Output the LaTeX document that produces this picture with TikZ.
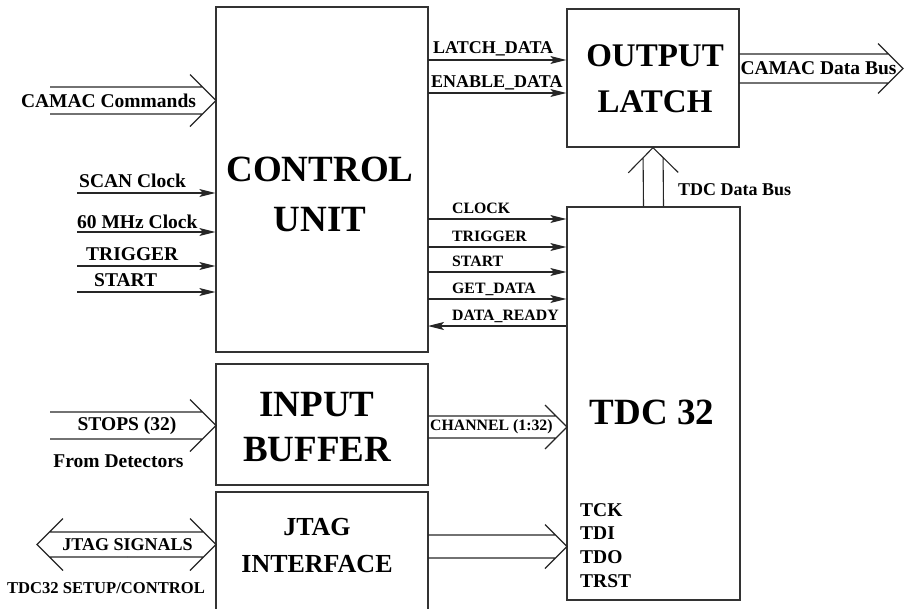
\documentclass[tikz,border=0pt]{standalone}
\usepackage{fontspec}
\setmainfont{Liberation Serif}
\usetikzlibrary{arrows.meta,positioning,calc}

\tikzset{
  wire/.style={line width=1.1pt, black!85},
  sig/.style={wire, -{Stealth[length=16pt, width=8pt, inset=3.5pt]}},
  blk/.style={draw=black!80, line width=1.3pt, inner sep=0pt},
  ttl/.style={font=\fontsize{37}{48}\selectfont\bfseries, align=center, inner sep=0pt},
  lbl/.style={font=\fontsize{19.5}{22}\selectfont\bfseries, inner sep=0pt},
  buslbl/.style={font=\fontsize{18}{21}\selectfont\bfseries, inner sep=0pt},
  sgl/.style={font=\fontsize{15.8}{18}\selectfont\bfseries, inner sep=0pt},
}

% bus: two parallel lines ending in an open head
\newcommand{\busarrow}[4]{%
  \draw[wire] let \p1=(#1), \p2=(#2),
    \n1={atan2(\y2-\y1,\x2-\x1)}, \n2={cos(\n1)}, \n3={sin(\n1)} in
    ({\x1-#3*\n3},{\y1+#3*\n2}) -- ({\x2-#3*\n2-#3*\n3},{\y2-#3*\n3+#3*\n2})
    ({\x1+#3*\n3},{\y1-#3*\n2}) -- ({\x2-#3*\n2+#3*\n3},{\y2-#3*\n3-#3*\n2})
    ({\x2-#4*\n2-#4*\n3},{\y2-#4*\n3+#4*\n2}) -- (\p2)
      -- ({\x2-#4*\n2+#4*\n3},{\y2-#4*\n3-#4*\n2});}

\begin{document}
\begin{tikzpicture}[x=1pt, y=1pt]
    \useasboundingbox (0,0) rectangle (907,-608);
    \clip (0,0) rectangle (907,-608);

    % Blocks
    \node[blk, minimum width=212pt, minimum height=345pt] (ctrl) at (322,-179.5) {};
    \node[blk, minimum width=172pt, minimum height=138pt] (latch) at (653,-78) {};
    \node[blk, minimum width=173pt, minimum height=393pt] (tdc) at (653.5,-403.5) {};
    \node[blk, minimum width=212pt, minimum height=121pt] (inbuf) at (322,-424.5) {};
    \node[blk, minimum width=212pt, minimum height=128pt] (jtag) at (322,-556) {};

    % Block titles
    \node[ttl, font=\fontsize{37}{50}\selectfont\bfseries] (ctrlt) at (320,-194) {CONTROL\\UNIT};
    \node[ttl, font=\fontsize{33}{46}\selectfont\bfseries] (latcht) at (655,-79) {OUTPUT\\LATCH};
    \node[ttl] (tdct) at (652,-412.5) {TDC 32};
    \node[ttl, font=\fontsize{37}{45}\selectfont\bfseries] (inbuft) at (317,-427) {INPUT\\BUFFER};
    \node[ttl, font=\fontsize{26}{37}\selectfont\bfseries] (jtagt) at (317,-546) {JTAG\\INTERFACE};

    % CAMAC commands
    \coordinate (cmdin) at (50,-100.5);
    \coordinate (cmdtip) at (216,-100.5);
    \busarrow{cmdin}{cmdtip}{13.5}{26}
    \node[lbl] (cmdl) at (108.5,-100.5) {CAMAC Commands};

    % Clock and trigger inputs
    \foreach \yy/\xl/\bl/\txt [count=\i] in {193/79/187/SCAN Clock, 232/77/228/60 MHz Clock,
                                            266/86/260/TRIGGER, 292/94/286/START} {
        \coordinate (in\i) at (77,-\yy);
        \draw[sig] (in\i) -- (in\i -| ctrl.west);
        \node[lbl, anchor=base west] (inl\i) at (\xl,-\bl) {\txt};
    }

    % Stops
    \coordinate (stin) at (50,-425.5);
    \coordinate (sttip) at (216,-425.5);
    \busarrow{stin}{sttip}{13.5}{26}
    \node[lbl] (stl) at (127,-425.5) {STOPS (32)};
    \node[lbl, anchor=base] (stl2) at (118.5,-467) {From Detectors};

    % JTAG signals
    \coordinate (jsmid) at (127,-544.5);
    \coordinate (jsl) at (37,-544.5);
    \coordinate (jsr) at (216,-544.5);
    \busarrow{jsmid}{jsr}{12.5}{26}
    \busarrow{jsmid}{jsl}{12.5}{26}
    \node[buslbl] (jsl1) at (127.5,-545) {JTAG SIGNALS};
    \node[font=\fontsize{16.6}{19}\selectfont\bfseries, inner sep=0pt, anchor=base]
        (jsl2) at (106,-593) {TDC32 SETUP/CONTROL};

    % Control -> latch
    \foreach \yy/\xl/\bl/\txt [count=\i] in {60/433/53/LATCH\_DATA, 93/431/87/ENABLE\_DATA} {
        \coordinate (ld\i) at (428,-\yy);
        \draw[sig] (ld\i) -- (ld\i -| latch.west);
        \node[buslbl, anchor=base west] (ldl\i) at (\xl,-\bl) {\txt};
    }

    % Control <-> TDC
    \foreach \yy/\txt [count=\i] in {219/CLOCK, 247/TRIGGER, 272/START, 299/GET\_DATA} {
        \coordinate (ct\i) at (428,-\yy);
        \draw[sig] (ct\i) -- (ct\i -| tdc.west);
        \node[sgl, anchor=base west] (ctl\i) at (452,{-\yy+5.5}) {\txt};
    }
    \coordinate (ct5) at (428,-326);
    \draw[sig] (ct5 -| tdc.west) -- (ct5);
    \node[sgl, anchor=base west] (ctl5) at (452,-320.5) {DATA\_READY};

    % Buses into TDC
    \coordinate (chin) at (428,-427);
    \coordinate (chtip) at (567,-427);
    \busarrow{chin}{chtip}{11}{22}
    \node[sgl, anchor=west] (chl) at (430,-427) {CHANNEL (1:32)};

    \coordinate (jtin) at (428,-546.5);
    \coordinate (jttip) at (567,-546.5);
    \busarrow{jtin}{jttip}{11.5}{22}

    \foreach \txt [count=\i] in {TCK,TDI,TDO,TRST}
        \node[lbl, anchor=base west] (tp\i) at (580,{-516-23.7*(\i-1)}) {\txt};

    % Output side
    \coordinate (cdin) at (739,-68.5);
    \coordinate (cdtip) at (903,-68.5);
    \busarrow{cdin}{cdtip}{14.5}{25}
    \node[lbl] (cdl) at (818.5,-68.5) {CAMAC Data Bus};

    \busarrow{tdc.north}{latch.south}{10}{25}
    \node[buslbl, anchor=west] (tbl) at (678,-190) {TDC Data Bus};
\end{tikzpicture}
\end{document}
